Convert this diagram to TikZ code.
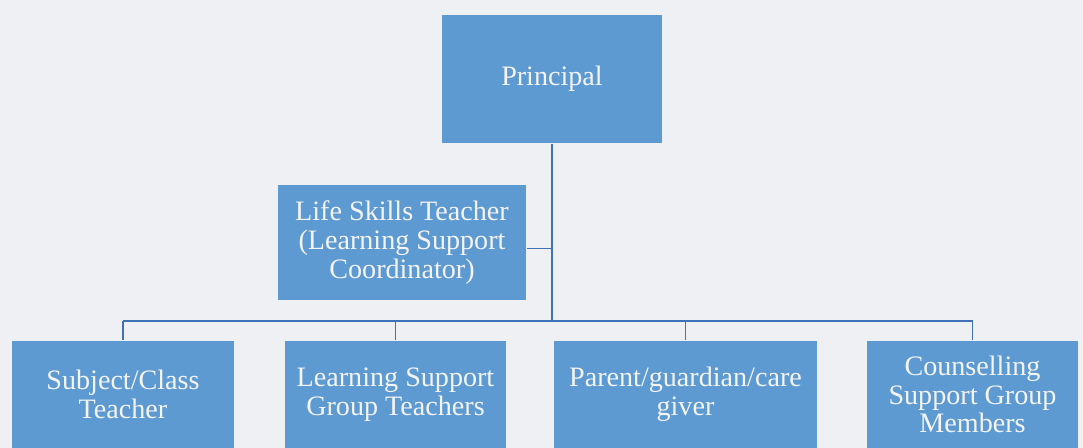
\documentclass[tikz,border=0pt]{standalone}
\usepackage{fontspec}
\setmainfont{Liberation Serif}
\usetikzlibrary{positioning, calc}
\definecolor{paper}{HTML}{EEF0F4}
\definecolor{cbox}{HTML}{5E9AD2}
\definecolor{cline}{HTML}{3F72B5}
\definecolor{ctext}{HTML}{F4F4F2}
\tikzset{
  every picture/.style={line width=1.4pt},
  box/.style={fill=cbox, text=ctext, align=center, inner sep=2pt,
    font=\fontsize{20}{20.5}\selectfont},
  link/.style={draw=cline, line width=1.4pt},
}

\begin{document}
\begin{tikzpicture}
  \fill[paper] (0,0) rectangle (27.075,11.2);
  \useasboundingbox (0,0) rectangle (27.075,11.2);
  % top of the chart
  \node[box, minimum width=5.5cm, minimum height=3.2cm] (principal) at (13.8,9.225) {Principal};
  \node[box, minimum width=6.2cm, minimum height=2.875cm] (lifeskills) at (10.05,5.1375)
    {Life Skills Teacher\\(Learning Support\\Coordinator)};
  \coordinate (bar) at (13.8,3.175);
  % bottom row
  \node[box, minimum width=5.55cm, minimum height=2.675cm] (subject) at (3.075,1.3375)
    {Subject/Class\\Teacher};
  \node[box, minimum width=5.525cm, minimum height=2.675cm] (lsgroup) at (9.8875,1.3375)
    {Learning Support\\Group Teachers};
  \node[box, minimum width=6.575cm, minimum height=2.675cm] (parent) at (17.1375,1.3375)
    {Parent/guardian/care\\giver};
  \node[box, minimum width=5.275cm, minimum height=2.675cm] (counsel) at (24.3125,1.3375)
    {Counselling\\Support Group\\Members};
  % connectors
  \draw[link] (principal.south) -- (bar);
  \draw[link] ([yshift=-0.15cm]lifeskills.east) -- ([yshift=-0.15cm]lifeskills.east -| bar);
  \draw[link] (subject.north |- bar) -- (counsel.north |- bar);
  \foreach \n in {subject, lsgroup, parent, counsel}
    \draw[link] (\n.north) -- (\n.north |- bar);
\end{tikzpicture}
\end{document}
